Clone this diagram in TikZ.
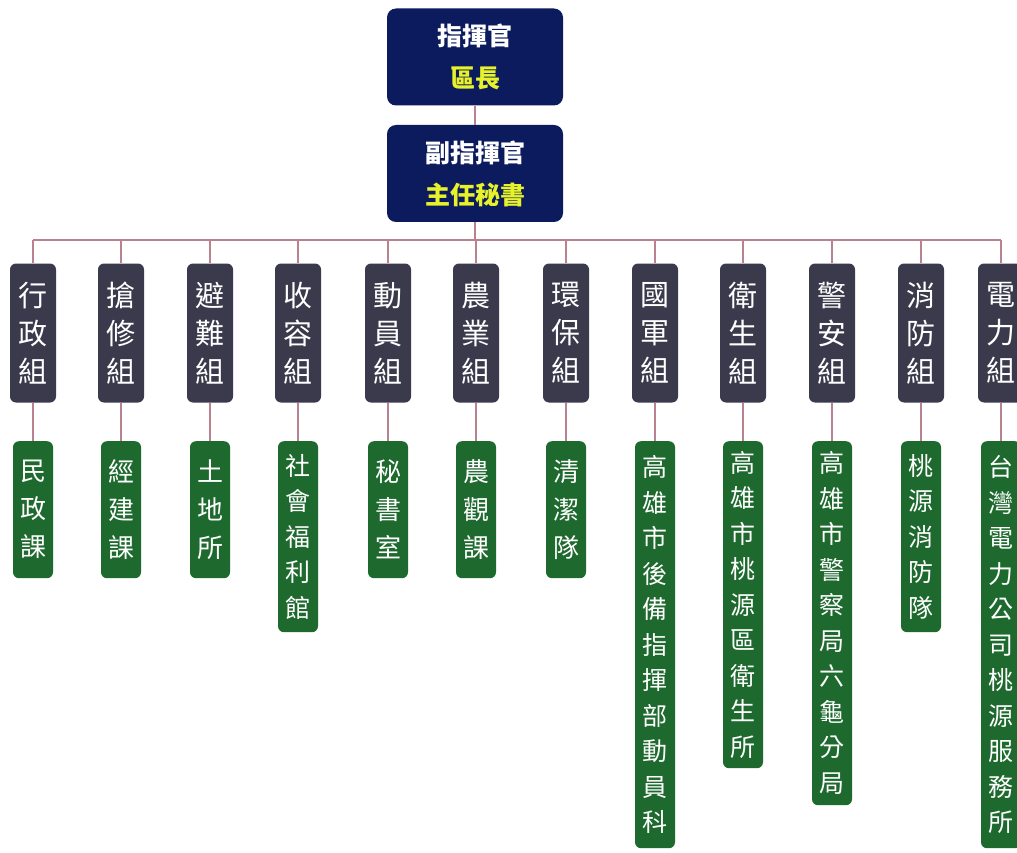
\documentclass[tikz,border=0pt]{standalone}
\usepackage{fontspec}
\newfontfamily\cjk{Noto Sans CJK TC}
\definecolor{navyc}{HTML}{0B1B5E}
\definecolor{grayc}{HTML}{3A3A4C}
\definecolor{greenc}{HTML}{1E6A2E}
\definecolor{yelc}{HTML}{E8F22A}
\definecolor{linec}{HTML}{B9828E}
\tikzset{
  topbox/.style={fill=navyc, rounded corners=9pt, minimum width=176pt, minimum height=97pt, align=center, inner sep=0pt, font=\cjk\bfseries\fontsize{25}{42}\selectfont},
  grp/.style={fill=grayc, rounded corners=6pt, minimum width=46pt, minimum height=139pt, text=white, align=center, inner sep=0pt, font=\cjk\fontsize{29}{38}\selectfont},
  unit/.style={fill=greenc, rounded corners=6pt, minimum width=40pt, text width=40pt, align=center, anchor=north, text=white, inner sep=0pt, font=\cjk\fontsize{25}{35.5}\selectfont},
  short/.style={minimum height=137pt, font=\cjk\fontsize{26}{38}\selectfont},
  conn/.style={draw=linec, line width=1.3pt}
}
\begin{document}
\begin{tikzpicture}[x=1pt,y=-1pt]
\useasboundingbox (0,0) rectangle (1017,853);
\clip (0,0) rectangle (1017,853);
\fill[white] (0,0) rectangle (1017,853);

\node[topbox] (top1) at (475,57) {\textcolor{white}{指揮官}\\\textcolor{yelc}{區長}};
\node[topbox] (top2) at (475,173.5) {\textcolor{white}{副指揮官}\\\textcolor{yelc}{主任秘書}};

\coordinate (bar) at (0,240);

\node[grp] (g1) at (33,333) {行\\政\\組};
\node[grp] (g2) at (121,333) {搶\\修\\組};
\node[grp] (g3) at (210,333) {避\\難\\組};
\node[grp] (g4) at (298,333) {收\\容\\組};
\node[grp] (g5) at (388,333) {動\\員\\組};
\node[grp] (g6) at (476,333) {農\\業\\組};
\node[grp] (g7) at (566,333) {環\\保\\組};
\node[grp] (g8) at (655,333) {國\\軍\\組};
\node[grp] (g9) at (743,333) {衛\\生\\組};
\node[grp] (g10) at (832,333) {警\\安\\組};
\node[grp] (g11) at (921,333) {消\\防\\組};
\node[grp] (g12) at (1001,333) {電\\力\\組};

\node[unit, short] (u1) at (33,441) {民\\政\\課};
\node[unit, short] (u2) at (121,441) {經\\建\\課};
\node[unit, short] (u3) at (210,441) {土\\地\\所};
\node[unit, minimum height=191pt] (u4) at (298,441) {社\\會\\福\\利\\館};
\node[unit, short] (u5) at (388,441) {秘\\書\\室};
\node[unit, short] (u6) at (476,441) {農\\觀\\課};
\node[unit, short] (u7) at (566,441) {清\\潔\\隊};
\node[unit, minimum height=407pt] (u8) at (655,441) {高\\雄\\市\\後\\備\\指\\揮\\部\\動\\員\\科};
\node[unit, minimum height=327pt] (u9) at (743,441) {高\\雄\\市\\桃\\源\\區\\衛\\生\\所};
\node[unit, minimum height=364pt] (u10) at (832,441) {高\\雄\\市\\警\\察\\局\\六\\龜\\分\\局};
\node[unit, minimum height=191pt] (u11) at (921,441) {桃\\源\\消\\防\\隊};
\node[unit, minimum height=407pt] (u12) at (1001,441) {台\\灣\\電\\力\\公\\司\\桃\\源\\服\\務\\所};

\draw[conn] (top1.south) -- (top2.north);
\draw[conn] (top2.south) -- (top2.south |- bar);
\draw[conn] (g1.north |- bar) -- (g12.north |- bar);
\foreach \i in {1,...,12}{
  \draw[conn] (g\i.north) -- (g\i.north |- bar);
  \draw[conn] (g\i.south) -- (u\i.north);
}
\end{tikzpicture}
\end{document}
